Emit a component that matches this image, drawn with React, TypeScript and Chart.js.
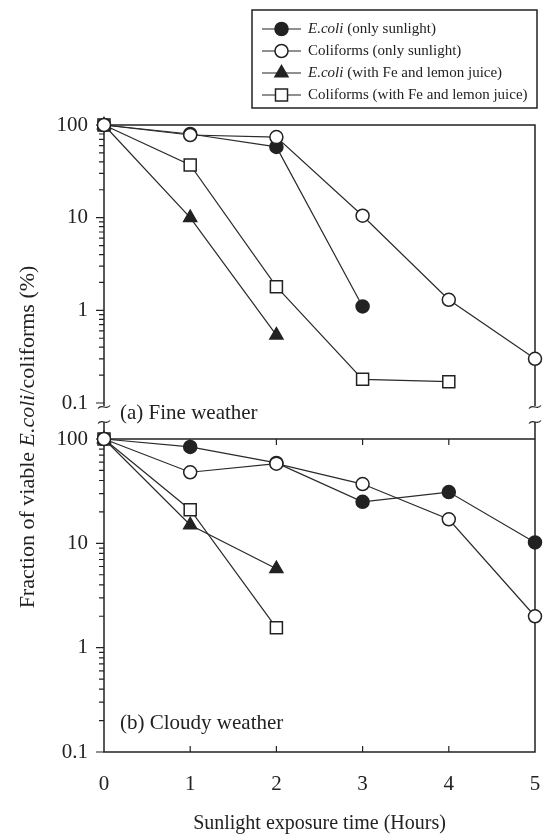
import React, { useEffect, useRef } from 'react';
import { Chart, registerables } from 'chart.js';

Chart.register(...registerables);

// ---------- data ----------
const hours = [0, 1, 2, 3, 4, 5];

// (a) Fine weather
const fineEcoliSun = [100, 80, 58, 1.1];
const fineColiSun = [100, 78, 74, 10.5, 1.3, 0.3];
const fineEcoliFe = [100, 10, 0.54];
const fineColiFe = [100, 37, 1.8, 0.18, 0.17];

// (b) Cloudy weather
const cloudyEcoliSun = [100, 84, 59, 25, 31, 10.2];
const cloudyColiSun = [100, 48, 58, 37, 17, 2.0];
const cloudyEcoliFe = [100, 15, 5.7];
const cloudyColiFe = [100, 21, 1.55];

const xTickValues = [0, 1, 2, 3, 4, 5];
const yTickValues = [0.1, 1, 10, 100];

const legendItalic = ['E.coli', '', 'E.coli', ''];
const legendRest = [
  ' (only sunlight)',
  'Coliforms (only sunlight)',
  ' (with Fe and lemon juice)',
  'Coliforms (with Fe and lemon juice)',
];
const panelLabels = ['(a) Fine weather', '(b) Cloudy weather'];
const xTitle = 'Sunlight exposure time (Hours)';
const yTitleParts = ['Fraction of viable ', 'E.coli', '/coliforms (%)'];

// ---------- styles ----------
const INK = '#222';
const FONT = "'Liberation Serif', 'Times New Roman', serif";

type MarkerStyle = { shape: 'circle' | 'triangle' | 'rect'; fill: string; radius: number };
const seriesStyles: MarkerStyle[] = [
  { shape: 'circle', fill: INK, radius: 6.5 },
  { shape: 'circle', fill: '#fff', radius: 6.5 },
  { shape: 'triangle', fill: INK, radius: 7.5 },
  { shape: 'rect', fill: '#fff', radius: 8.5 },
];
const drawOrder = [1, 0, 2, 3];

const toPoints = (vals: number[]) => vals.map((v, i) => ({ x: hours[i], y: v }));

function makeDataset(vals: number[], idx: number, axis: string) {
  const s = seriesStyles[idx];
  return {
    data: toPoints(vals),
    yAxisID: axis,
    borderColor: '#2a2a2a',
    borderWidth: 1.2,
    pointStyle: s.shape,
    pointRadius: s.radius,
    pointBackgroundColor: s.fill,
    pointBorderColor: INK,
    pointBorderWidth: 1.5,
    fill: false,
    tension: 0,
    clip: false as const,
    order: drawOrder[idx],
  };
}

function drawMarker(ctx: CanvasRenderingContext2D, s: MarkerStyle, x: number, y: number) {
  ctx.beginPath();
  if (s.shape === 'circle') {
    ctx.arc(x, y, s.radius, 0, Math.PI * 2);
  } else if (s.shape === 'triangle') {
    let rad = 0;
    ctx.moveTo(x + Math.sin(rad) * s.radius, y - Math.cos(rad) * s.radius);
    rad += (2 * Math.PI) / 3;
    ctx.lineTo(x + Math.sin(rad) * s.radius, y - Math.cos(rad) * s.radius);
    rad += (2 * Math.PI) / 3;
    ctx.lineTo(x + Math.sin(rad) * s.radius, y - Math.cos(rad) * s.radius);
    ctx.closePath();
  } else {
    const h = s.radius * Math.SQRT1_2;
    ctx.rect(x - h, y - h, 2 * h, 2 * h);
  }
  ctx.fillStyle = s.fill;
  ctx.fill();
  ctx.lineWidth = 1.5;
  ctx.strokeStyle = INK;
  ctx.stroke();
}

function tilde(ctx: CanvasRenderingContext2D, cx: number, cy: number) {
  ctx.moveTo(cx - 6, cy + 1.5);
  ctx.bezierCurveTo(cx - 2, cy - 4, cx + 2, cy + 4, cx + 6, cy - 1.5);
}

const framePlugin = {
  id: 'frame',
  beforeDatasetsDraw(chart: any) {
    const { ctx } = chart;
    const xs = chart.scales.x;
    const yt = chart.scales.yTop;
    const yb = chart.scales.yBot;
    const L = xs.getPixelForValue(0);
    const R = xs.getPixelForValue(5);
    const t1 = yt.getPixelForValue(100);
    const b1 = yt.getPixelForValue(0.1);
    const t2 = yb.getPixelForValue(100);
    const b2 = yb.getPixelForValue(0.1);
    ctx.save();
    ctx.strokeStyle = INK;
    ctx.lineWidth = 1.5;
    ctx.beginPath();
    ctx.moveTo(L, b1 + 3);
    ctx.lineTo(L, t1);
    ctx.lineTo(R, t1);
    ctx.lineTo(R, b1 + 3);
    ctx.rect(L, t2, R - L, b2 - t2);
    const stubTop = t2 - 17;
    ctx.moveTo(L, stubTop);
    ctx.lineTo(L, t2);
    ctx.moveTo(R, stubTop);
    ctx.lineTo(R, t2);
    ctx.stroke();
    ctx.lineWidth = 1.2;
    ctx.beginPath();
    tilde(ctx, L, b1 + 4);
    tilde(ctx, L, stubTop);
    tilde(ctx, R, b1 + 4);
    tilde(ctx, R, stubTop);
    ctx.stroke();
    ctx.lineWidth = 1.2;
    ctx.beginPath();
    for (const sc of [yt, yb]) {
      for (let d = -1; d <= 1; d++) {
        for (let m = 1; m <= 9; m++) {
          const v = m * Math.pow(10, d);
          const py = sc.getPixelForValue(v);
          const len = m === 1 ? 8 : 5;
          ctx.moveTo(L - len, py);
          ctx.lineTo(L, py);
        }
      }
      const p100 = sc.getPixelForValue(100);
      ctx.moveTo(L - 8, p100);
      ctx.lineTo(L, p100);
    }
    for (const v of xTickValues) {
      if (v === 0 || v === 5) continue;
      const px = xs.getPixelForValue(v);
      ctx.moveTo(px, t2);
      ctx.lineTo(px, t2 + 6);
      ctx.moveTo(px, b2);
      ctx.lineTo(px, b2 - 6);
    }
    ctx.stroke();

    ctx.fillStyle = INK;
    ctx.font = `21px ${FONT}`;
    ctx.textAlign = 'left';
    ctx.textBaseline = 'middle';
    ctx.fillText(panelLabels[0], 120, b1 + 10);
    ctx.fillText(panelLabels[1], 120, b2 - 29);
    ctx.restore();
  },
  afterDraw(chart: any) {
    const { ctx } = chart;
    ctx.save();
    const normal = `22px ${FONT}`;
    const italic = `italic 22px ${FONT}`;
    const fonts = [normal, italic, normal];
    const widths = yTitleParts.map((t, i) => {
      ctx.font = fonts[i];
      return ctx.measureText(t).width;
    });
    const total = widths.reduce((a, b) => a + b, 0);
    ctx.translate(28, 437);
    ctx.rotate(-Math.PI / 2);
    ctx.fillStyle = INK;
    ctx.textBaseline = 'middle';
    ctx.textAlign = 'left';
    let cx = -total / 2;
    yTitleParts.forEach((t, i) => {
      ctx.font = fonts[i];
      ctx.fillText(t, cx, 0);
      cx += widths[i];
    });
    ctx.restore();

    ctx.save();
    const bx = 252, by = 10, bw = 285, bh = 98;
    ctx.fillStyle = '#fff';
    ctx.fillRect(bx, by, bw, bh);
    ctx.strokeStyle = INK;
    ctx.lineWidth = 1.5;
    ctx.strokeRect(bx, by, bw, bh);
    const rowY = [29, 51, 73, 95];
    const lf = `15px ${FONT}`;
    const lfi = `italic 15px ${FONT}`;
    ctx.textBaseline = 'middle';
    ctx.textAlign = 'left';
    for (let i = 0; i < 4; i++) {
      const y = rowY[i];
      ctx.beginPath();
      ctx.strokeStyle = INK;
      ctx.lineWidth = 1.2;
      ctx.moveTo(262, y);
      ctx.lineTo(301, y);
      ctx.stroke();
      drawMarker(ctx, seriesStyles[i], 281.5, y);
      let tx = 308;
      ctx.fillStyle = INK;
      if (legendItalic[i]) {
        ctx.font = lfi;
        ctx.fillText(legendItalic[i], tx, y);
        tx += ctx.measureText(legendItalic[i]).width;
      }
      ctx.font = lf;
      ctx.fillText(legendRest[i], tx, y);
    }
    ctx.restore();
  },
};

const TOP_DECADE_PX = 278;
const TOP_PANEL_PX = 314;
const BOT_PANEL_PX = 313;
const topMin = Math.pow(10, 2 - (3 * TOP_PANEL_PX) / TOP_DECADE_PX);

const yCommon = {
  type: 'logarithmic' as const,
  position: 'left' as const,
  stack: 'panels',
  max: 100,
  grid: { display: false, drawTicks: false },
  border: { display: false },
  afterBuildTicks: (s: any) => {
    s.ticks = yTickValues.map((v) => ({ value: v }));
  },
  afterFit: (s: any) => {
    s.width = 104;
    s.paddingTop = 0;
    s.paddingBottom = 0;
  },
  ticks: {
    autoSkip: false,
    padding: 16,
    color: INK,
    font: { family: FONT, size: 21 },
    callback: (v: any) => (yTickValues.includes(Number(v)) ? String(v) : ''),
  },
};

export default function App() {
  const ref = useRef<HTMLCanvasElement | null>(null);
  useEffect(() => {
    if (!ref.current) return;
    const chart = new Chart(ref.current, {
      type: 'line',
      data: {
        datasets: [
          makeDataset(fineEcoliSun, 0, 'yTop'),
          makeDataset(fineColiSun, 1, 'yTop'),
          makeDataset(fineEcoliFe, 2, 'yTop'),
          makeDataset(fineColiFe, 3, 'yTop'),
          makeDataset(cloudyEcoliSun, 0, 'yBot'),
          makeDataset(cloudyColiSun, 1, 'yBot'),
          makeDataset(cloudyEcoliFe, 2, 'yBot'),
          makeDataset(cloudyColiFe, 3, 'yBot'),
        ] as any,
      },
      options: {
        responsive: false,
        animation: false,
        devicePixelRatio: 1,
        layout: { padding: { top: 125, right: 8, left: 0, bottom: 0 } },
        plugins: { legend: { display: false }, tooltip: { enabled: false } },
        scales: {
          x: {
            type: 'linear',
            min: 0,
            max: 5,
            grid: { display: false, drawTicks: false },
            border: { display: false },
            afterBuildTicks: (s: any) => {
              s.ticks = xTickValues.map((v) => ({ value: v }));
            },
            afterFit: (s: any) => {
              s.height = 82;
              s.paddingLeft = 0;
              s.paddingRight = 0;
            },
            ticks: {
              autoSkip: false,
              maxRotation: 0,
              padding: 20,
              color: INK,
              font: { family: FONT, size: 21 },
            },
            title: {
              display: true,
              text: xTitle,
              color: INK,
              padding: 0,
              font: { family: FONT, size: 20, lineHeight: 1 },
            },
          },
          yBot: { ...yCommon, min: 0.1, stackWeight: BOT_PANEL_PX, weight: 1 },
          yTop: { ...yCommon, min: topMin, stackWeight: TOP_PANEL_PX, weight: 2 },
        } as any,
      },
      plugins: [framePlugin],
    });
    return () => chart.destroy();
  }, []);
  return (
    <div style={{ position: 'absolute', left: 0, top: 0, width: 545, height: 834, background: '#fff' }}>
      <canvas ref={ref} width={545} height={834} />
    </div>
  );
}
